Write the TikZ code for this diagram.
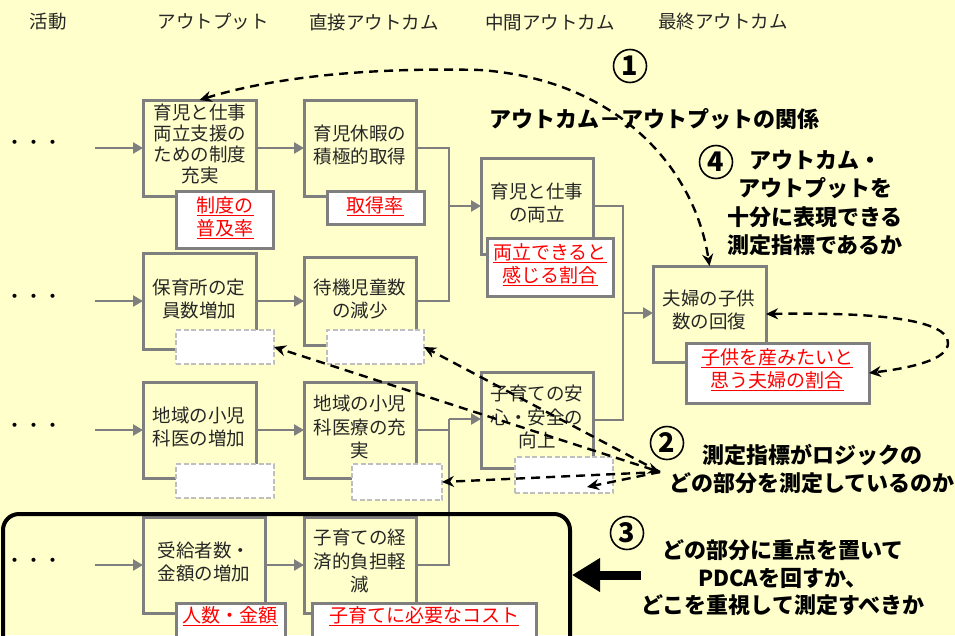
\documentclass[tikz,border=0pt]{standalone}
\usepackage{fontspec}
\setmainfont{Noto Sans CJK JP}
\usetikzlibrary{arrows.meta}
\definecolor{bgy}{HTML}{FFFFCC}
\definecolor{bgray}{HTML}{7F7F7F}
\definecolor{dgray}{HTML}{BFBFBF}
\definecolor{redt}{HTML}{FF0000}
\definecolor{txtc}{HTML}{262626}
\newsavebox\ulbox
\newcommand\redu[1]{\sbox\ulbox{#1}\rlap{\rule[-3.5pt]{\wd\ulbox}{1.2pt}}\usebox\ulbox}
\begin{document}
\begin{tikzpicture}[x=1pt,y=-1pt,
  box/.style={draw=bgray,line width=3pt,anchor=north west,inner sep=0pt,outer sep=0pt},
  rbox/.style={box,fill=white},
  dbox/.style={draw=dgray,dash pattern=on 5pt off 2.5pt,line width=2pt,fill=white,anchor=north west,inner sep=0pt,outer sep=0pt},
  btxt/.style={text=txtc,font=\fontsize{18.5pt}{23.5pt}\selectfont,align=center,inner sep=0pt},
  rtxt/.style={text=redt,font=\fontsize{19pt}{23.5pt}\selectfont,align=center,inner sep=0pt},
  head/.style={text=txtc,font=\fontsize{18.5pt}{22pt}\selectfont,inner sep=0pt},
  boldt/.style={text=black,font=\fontsize{22pt}{28pt}\selectfont\bfseries,align=center,inner sep=0pt},
  cnum/.style={circle,draw=black,line width=1.6pt,minimum size=33pt,inner sep=0pt,font=\fontsize{27pt}{27pt}\selectfont\bfseries},
  garr/.style={draw=bgray,line width=2.8pt,-{Triangle[length=10pt,width=11pt]}},
  gline/.style={draw=bgray,line width=2.8pt},
  darr/.style={draw=black,line width=2.4pt,dash pattern=on 9pt off 6pt},
  >={Stealth[length=12pt,width=11pt]}
]
\clip (0,0) rectangle (955,635);
\fill[bgy] (0,0) rectangle (955,635);

% headers
\node[head] (h1) at (48,22) {活動};
\node[head] (h2) at (213,22) {アウトプット};
\node[head] (h3) at (374,22) {直接アウトカム};
\node[head] (h4) at (550,22) {中間アウトカム};
\node[head] (h5) at (723,22) {最終アウトカム};

% main boxes
\node[box,minimum width=113pt,minimum height=96pt] (out1) at (143,100) {};
\node[box,minimum width=113pt,minimum height=96pt] (out2) at (143,253) {};
\node[box,minimum width=113pt,minimum height=96pt] (out3) at (143,382) {};
\node[box,minimum width=122pt,minimum height=96pt] (out4) at (143,517) {};
\node[box,minimum width=112pt,minimum height=96pt] (dir1) at (304,100) {};
\node[box,minimum width=112pt,minimum height=88pt] (dir2) at (304,257) {};
\node[box,minimum width=112pt,minimum height=96pt] (dir3) at (304,382) {};
\node[box,minimum width=112pt,minimum height=96pt] (dir4) at (304,517) {};
\node[box,minimum width=112pt,minimum height=96pt] (mid1) at (481,158) {};
\node[box,minimum width=112pt,minimum height=96pt] (mid2) at (481,372) {};
\node[box,minimum width=113pt,minimum height=96pt] (fin) at (653,266) {};

% dots
\node[head,text=black,font=\fontsize{19pt}{19pt}\selectfont] (dots1) at (34,145) {・・・};
\node[head,text=black,font=\fontsize{19pt}{19pt}\selectfont] (dots2) at (34,299) {・・・};
\node[head,text=black,font=\fontsize{19pt}{19pt}\selectfont] (dots3) at (34,428) {・・・};
\node[head,text=black,font=\fontsize{19pt}{19pt}\selectfont] (dots4) at (34,563) {・・・};

% gray connectors
\coordinate (s1) at (95,148);
\coordinate (s2) at (95,301);
\coordinate (s3) at (95,430);
\coordinate (s4) at (95,565);
\draw[garr] (s1) -- (out1.west);
\draw[garr] (s2) -- (out2.west);
\draw[garr] (s3) -- (out3.west);
\draw[garr] (s4) -- (out4.west);
\draw[garr] (out1.east) -- (dir1.west);
\draw[garr] (out2.east) -- (dir2.west);
\draw[garr] (out3.east) -- (dir3.west);
\draw[garr] (out4.east) -- (dir4.west);
\coordinate (jx) at (449,206);
\coordinate (jy) at (449,419);
\coordinate (jz) at (623,313);
\draw[gline] (dir1.east) -- (dir1.east -| jx) -- (jx |- dir2.east) -- (dir2.east);
\draw[garr] (jx) -- (jx -| mid1.west);
\draw[gline] (dir3.east) -- (dir3.east -| jy);
\draw[gline] (dir4.east) -| (jy);
\draw[garr] (jy) -- (jy -| mid2.west);
\draw[gline] (mid1.east) -| (jz);
\draw[gline] (mid2.east) -| (jz);
\draw[garr] (jz) -- (jz -| fin.west);

% red indicator boxes
\node[rbox,minimum width=97pt,minimum height=57pt] (rout1) at (176,191) {};
\node[rbox,minimum width=97pt,minimum height=33pt] (rdir1) at (327,191) {};
\node[rbox,minimum width=126pt,minimum height=58pt] (rmid1) at (487,238) {};
\node[rbox,minimum width=183pt,minimum height=60pt] (rfin) at (686,343) {};
\node[rbox,minimum width=109pt,minimum height=50pt] (rout4) at (176,603) {};
\node[rbox,minimum width=224pt,minimum height=50pt] (rdir4) at (312,603) {};

% empty dashed boxes
\node[dbox,minimum width=98pt,minimum height=34pt] (dout2) at (176,330) {};
\node[dbox,minimum width=97pt,minimum height=34pt] (ddir2) at (327,330) {};
\node[dbox,minimum width=98pt,minimum height=34pt] (dout3) at (176,464) {};
\node[dbox,minimum width=90pt,minimum height=36pt] (ddir3) at (352,464) {};
\node[dbox,minimum width=98pt,minimum height=36pt] (dmid2) at (515,457) {};

% box texts
\node[btxt,font=\fontsize{18.5pt}{20.7pt}\selectfont] (tout1) at (200,144) {育児と仕事\\両立支援の\\ための制度\\充実};
\node[btxt] (tdir1) at (360,145) {育児休暇の\\積極的取得};
\node[btxt] (tout2) at (199,299) {保育所の定\\員数増加};
\node[btxt] (tdir2) at (360,299) {待機児童数\\の減少};
\node[btxt] (tout3) at (199,427) {地域の小児\\科医の増加};
\node[btxt] (tdir3) at (360,427) {地域の小児\\科医療の充\\実};
\node[btxt] (tout4) at (204,562) {受給者数・\\金額の増加};
\node[btxt] (tdir4) at (360,561) {子育ての経\\済的負担軽\\減};
\node[btxt] (tmid1) at (537,203) {育児と仕事\\の両立};
\node[btxt] (tmid2) at (537,417) {子育ての安\\心・安全の\\向上};
\node[btxt] (tfin) at (709,310) {夫婦の子供\\数の回復};

% red texts
\node[rtxt] (trout1) at (225,218) {\redu{制度の}\\\redu{普及率}};
\node[rtxt] (trdir1) at (375,206) {\redu{取得率}};
\node[rtxt] (trmid1) at (550,265) {\redu{両立できると}\\\redu{感じる割合}};
\node[rtxt] (trfin) at (777,370) {\redu{子供を産みたいと}\\\redu{思う夫婦の割合}};
\node[rtxt] (trout4) at (230,616) {\redu{人数・金額}};
\node[rtxt] (trdir4) at (424,616) {\redu{子育てに必要なコスト}};

% focus frame
\node[draw=black,line width=4pt,rounded corners=16pt,minimum width=567pt,minimum height=160pt,anchor=north west,inner sep=0pt] (focus) at (1,512) {};

% dashed arrows
\draw[darr,<->] (out1.north) .. controls (290,72) and (400,68) .. (480,70) .. controls (620,80) and (695,170) .. (fin.north);
\draw[darr,<->] (fin.east) .. controls (880,312) and (948,320) .. (948,343) .. controls (948,360) and (910,368) .. (rfin.east);
\coordinate (c2) at (660,472);
\coordinate (c2b) at (587,487);
\draw[darr,<->] (c2) -- (dout2.east);
\draw[darr,->] (c2) -- (ddir2.east);
\draw[darr,->] (c2) -- (ddir3.east);
\draw[darr,->] (c2) -- (c2b);

% thick arrow
\coordinate (ta) at (641,575);
\draw[line width=9pt,-{Triangle[length=28pt,width=32pt]}] (ta) -- (ta -| focus.east);

% bold annotations
\node[cnum] (n1) at (630,66) {1};
\node[boldt] (trel) at (654,119) {アウトカム－アウトプットの関係};
\node[cnum] (n4) at (716,162) {4};
\node[boldt,font=\fontsize{22pt}{28.3pt}\selectfont\bfseries] (t4) at (815,203) {アウトカム・\\アウトプットを\\十分に表現できる\\測定指標であるか};
\node[cnum] (n2) at (667,443) {2};
\node[boldt] (t2) at (812,469) {測定指標がロジックの\\どの部分を測定しているのか};
\node[cnum] (n3) at (627,533) {3};
\node[boldt,font=\fontsize{22pt}{27.5pt}\selectfont\bfseries] (t3) at (783,578) {どの部分に重点を置いて\\PDCAを回すか、\\どこを重視して測定すべきか};
\end{tikzpicture}
\end{document}
